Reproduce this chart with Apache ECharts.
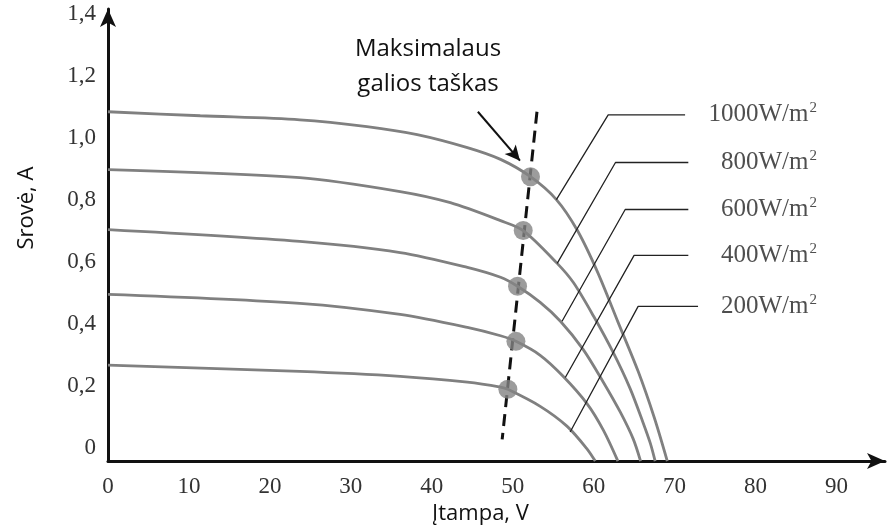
<!DOCTYPE html>
<html>
<head>
<meta charset="utf-8">
<title>Saulės modulio V-A charakteristikos</title>
<script src="https://cdn.jsdelivr.net/npm/echarts@6/dist/echarts.min.js"></script>
<style>
  html, body { margin: 0; padding: 0; background: #fff; }
  #chart { width: 888px; height: 530px; }
</style>
</head>
<body>
<div id="chart"></div>
<script>
// I-V curves, one per irradiance level (voltage in V, current in A)
const irradiance = ['1000W/m²', '800W/m²', '600W/m²', '400W/m²', '200W/m²']

const v1000 = [0, 11.4, 23.7, 32.0, 38.2, 44.4, 48.5, 52.2, 55.4, 58.0, 60.5, 63.0, 65.5, 67.5, 69.1]
const i1000 = [1.129, 1.116, 1.103, 1.081, 1.055, 1.013, 0.975, 0.919, 0.845, 0.745, 0.610, 0.450, 0.290, 0.140, 0]

const v800 = [0, 23.7, 36.1, 42.3, 48.5, 51.3, 55.5, 57.5, 60.0, 62.4, 64.5, 66.1, 67.0, 67.6]
const i800 = [0.942, 0.916, 0.871, 0.835, 0.777, 0.745, 0.639, 0.577, 0.468, 0.352, 0.235, 0.125, 0.058, 0]

const v600 = [0, 23.7, 36.1, 44.4, 48.5, 50.6, 53.4, 55.9, 58.7, 61.2, 63.3, 64.9, 65.8]
const i600 = [0.748, 0.710, 0.674, 0.626, 0.594, 0.565, 0.513, 0.452, 0.361, 0.255, 0.158, 0.071, 0]

const v400 = [0, 23.7, 36.1, 44.4, 48.5, 50.4, 53.4, 56.2, 59.2, 61.2, 63.0]
const i400 = [0.539, 0.510, 0.474, 0.432, 0.405, 0.387, 0.342, 0.275, 0.185, 0.100, 0]

const v200 = [0, 23.7, 36.1, 44.4, 48.5, 49.4, 53.4, 56.7, 59.2, 60.2]
const i200 = [0.310, 0.290, 0.274, 0.255, 0.239, 0.232, 0.177, 0.113, 0.039, 0]

const voltages = [v1000, v800, v600, v400, v200]
const currents = [i1000, i800, i600, i400, i200]

// maximum power points
const mppV = [52.2, 51.3, 50.6, 50.4, 49.4]
const mppI = [0.919, 0.745, 0.565, 0.387, 0.232]

// dashed MPP trend line and annotation arrow (data coords)
const mppLineV = [53.0, 48.7]
const mppLineI = [1.129, 0.07]
const arrowV = [45.7, 50.9]
const arrowI = [1.129, 0.971]

// leader lines from each curve to its label
const leaderV = [[55.4, 61.8, 71.3], [55.5, 62.7, 71.7], [56.1, 63.9, 71.7], [56.5, 65.0, 71.7], [57.1, 65.5, 72.9]]
const leaderI = [[0.845, 1.119, 1.119], [0.639, 0.965, 0.965], [0.452, 0.813, 0.813], [0.270, 0.665, 0.665], [0.094, 0.500, 0.500]]
const labelV = 87.6

const serif = '"Liberation Serif", "DejaVu Serif", serif'
const sans = '"Open Sans", "Noto Sans", sans-serif'

const chart = echarts.init(document.getElementById('chart'))

const curveSeries = irradiance.map((name, k) => ({
  type: 'line',
  name: name,
  data: voltages[k].map((v, j) => [v, currents[k][j]]),
  smooth: 0.3,
  symbol: 'none',
  lineStyle: { color: '#808080', width: 2.8 },
  z: 3
}))

const leaderSeries = irradiance.map((name, k) => ({
  type: 'line',
  data: leaderV[k].map((v, j) => [v, leaderI[k][j]]),
  symbol: 'none',
  lineStyle: { color: '#222', width: 1.3 },
  z: 4
}))

const option = {
  animation: false,
  backgroundColor: '#fff',
  grid: { left: 108, right: 3, top: 9, bottom: 68 },
  xAxis: {
    type: 'value',
    min: 0,
    max: 96,
    interval: 10,
    axisLine: {
      show: true,
      symbol: ['none', 'arrow'],
      symbolSize: [12, 18],
      lineStyle: { color: '#111', width: 3 }
    },
    axisTick: { show: false },
    splitLine: { show: false },
    axisLabel: {
      showMaxLabel: false,
      margin: 14,
      fontFamily: serif,
      fontSize: 23,
      color: '#333'
    },
    name: 'Įtampa, V',
    nameLocation: 'middle',
    nameGap: 40,
    nameTextStyle: { fontFamily: sans, fontSize: 22, color: '#111', padding: [0, 32, 0, 0] }
  },
  yAxis: {
    type: 'value',
    min: 0,
    max: 1.461,
    interval: 0.2,
    axisLine: {
      show: true,
      symbol: ['none', 'arrow'],
      symbolSize: [12, 18],
      lineStyle: { color: '#111', width: 3 }
    },
    axisTick: { show: false },
    splitLine: { show: false },
    axisLabel: {
      showMaxLabel: false,
      margin: 12,
      verticalAlign: 'bottom',
      padding: [0, 0, 2, 0],
      fontFamily: serif,
      fontSize: 23,
      color: '#333',
      formatter: v => {
        if (Math.abs(v / 0.2 - Math.round(v / 0.2)) > 1e-6) return ''
        return v === 0 ? '0' : v.toFixed(1).replace('.', ',')
      }
    },
    name: 'Srovė, A',
    nameLocation: 'middle',
    nameRotate: 90,
    nameGap: 70,
    nameTextStyle: { fontFamily: sans, fontSize: 22, color: '#111', padding: [0, 0, 0, 54] }
  },
  graphic: [{
    type: 'text',
    x: 428,
    y: 32,
    style: {
      text: 'Maksimalaus\ngalios taškas',
      fontFamily: sans,
      fontSize: 24,
      lineHeight: 35,
      textAlign: 'center',
      fill: '#111'
    }
  }],
  series: [
    {
      type: 'line',
      data: mppLineV.map((v, j) => [v, mppLineI[j]]),
      symbol: 'none',
      lineStyle: { color: '#111', width: 3, type: [12, 7] },
      z: 2,
      markLine: {
        silent: true,
        symbol: ['none', 'arrow'],
        symbolSize: [11, 15],
        label: { show: false },
        lineStyle: { color: '#111', width: 2, type: 'solid' },
        data: [[{ coord: [arrowV[0], arrowI[0]] }, { coord: [arrowV[1], arrowI[1]] }]]
      }
    },
    ...curveSeries,
    ...leaderSeries,
    {
      type: 'scatter',
      data: mppV.map((v, j) => [v, mppI[j]]),
      symbolSize: 19,
      itemStyle: { color: '#838383' },
      z: 5
    },
    {
      type: 'scatter',
      data: irradiance.map((name, k) => ({ name: name, value: [labelV, leaderI[k][2]] })),
      symbolSize: 0,
      label: {
        show: true,
        position: 'left',
        distance: 0,
        formatter: p => '{a|' + p.name.replace('²', '') + '}{s|2}',
        rich: {
          a: { fontFamily: serif, fontSize: 25, color: '#222', lineHeight: 28 },
          s: { fontFamily: serif, fontSize: 15, color: '#222', verticalAlign: 'top', lineHeight: 15, padding: [0, 0, 0, 1] }
        }
      },
      z: 5
    }
  ]
}

chart.setOption(option)
</script>
</body>
</html>
